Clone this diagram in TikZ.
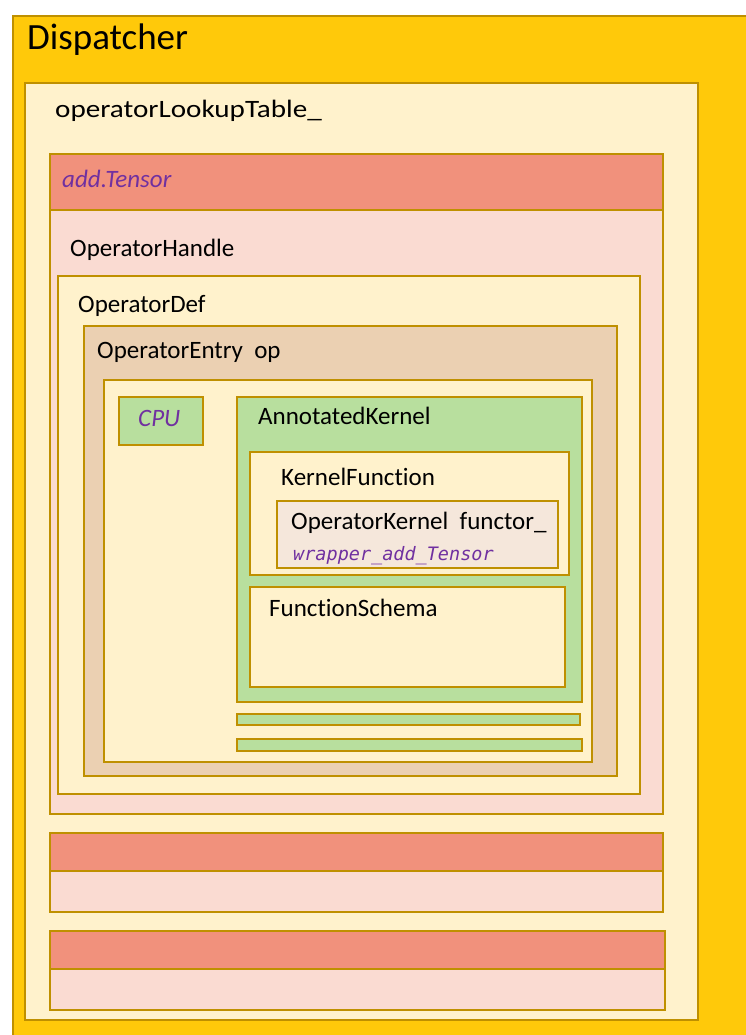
\documentclass[tikz,border=0pt]{standalone}
\usepackage{fontspec}
\setmainfont[Ligatures={NoCommon}]{Carlito}
\newfontfamily\codefont{DejaVu Sans Mono}
\definecolor{dispgold}{HTML}{FFC90A}
\definecolor{edgegold}{HTML}{BF9000}
\definecolor{cream}{HTML}{FFF2CC}
\definecolor{salmon}{HTML}{F1917C}
\definecolor{rosy}{HTML}{FADBD2}
\definecolor{tan}{HTML}{EBD0B2}
\definecolor{leaf}{HTML}{B8DF9E}
\definecolor{paletan}{HTML}{F5E7DB}
\definecolor{opname}{HTML}{7030A0}

\begin{document}
\begin{tikzpicture}[x=1pt,y=-1pt,
		box/.style={draw=edgegold, line width=2pt},
		lbl/.style={anchor=base west, inner sep=0pt, font=\fontsize{25}{29}\selectfont},
		namelbl/.style={lbl, opname, font=\fontsize{25}{29}\selectfont\itshape}]
		\useasboundingbox (0,0) rectangle (745,1035);
		% outer boxes
		\draw [box, fill=dispgold] (13,16) rectangle (760,1050);
		\draw [box, fill=cream] (25,83) rectangle (698,1020);

		% first table entry
		\draw [box, fill=rosy] (50,210) rectangle (663,814);
		\draw [box, fill=salmon] (50,154) rectangle (663,210);
		\draw [box, fill=cream] (58,276) rectangle (640,794);
		\draw [box, fill=tan] (84,326) rectangle (617,776);
		\draw [box, fill=cream] (104,380) rectangle (592,762);
		\draw [box, fill=leaf] (119,397) rectangle (203,445);
		\draw [box, fill=leaf] (237,397) rectangle (582,702);
		\draw [box, fill=cream] (250,452) rectangle (569,575);
		\draw [box, fill=paletan] (277,501) rectangle (558,568);
		\draw [box, fill=cream] (250,587) rectangle (565,687);
		\draw [box, fill=leaf] (237,714) rectangle (580,725);
		\draw [box, fill=leaf] (237,739) rectangle (582,751);

		% other table entries
		\draw [box, fill=rosy] (50,871) rectangle (663,912);
		\draw [box, fill=salmon] (50,833) rectangle (663,871);
		\draw [box, fill=rosy] (50,969) rectangle (665,1010);
		\draw [box, fill=salmon] (50,931) rectangle (665,969);

		% labels
		\node[lbl, font=\fontsize{37}{41}\selectfont] (disp) at (27,50) {Dispatcher};
		\node[lbl, xscale=1.165, transform shape] (table) at (55,118) {operatorLookupTable\_};
		\node[namelbl] (addname) at (62,188) {add.Tensor};
		\node[lbl] (handle) at (70,256) {OperatorHandle};
		\node[lbl] (def) at (78,312) {OperatorDef};
		\node[lbl] (entry) at (97,358) {OperatorEntry\ \ op};
		\node[namelbl] (cpu) at (138,426) {CPU};
		\node[lbl] (annot) at (258,424) {AnnotatedKernel};
		\node[lbl] (kfunc) at (281,485) {KernelFunction};
		\node[lbl] (okern) at (291,529) {OperatorKernel\ \ functor\_};
		\node[lbl, opname, font=\fontsize{18.5}{22}\selectfont\codefont\itshape] (wrap) at (293,560) {wrapper\_add\_Tensor};
		\node[lbl] (schema) at (269,616) {FunctionSchema};
	\end{tikzpicture}
\end{document}
